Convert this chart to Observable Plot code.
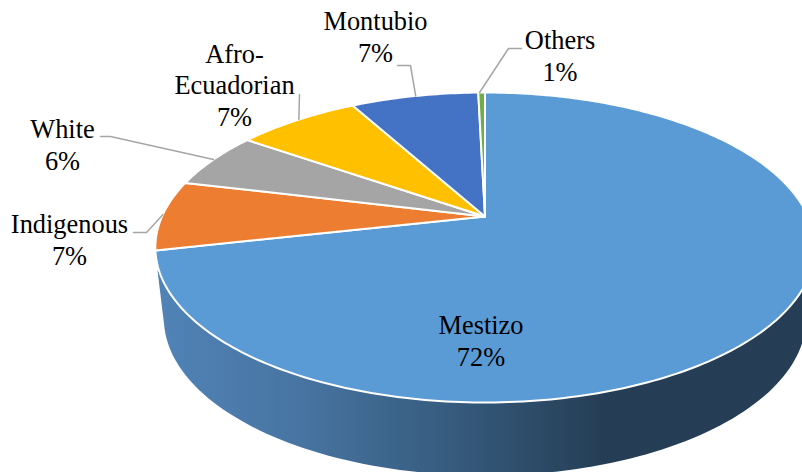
<!DOCTYPE html>
<html>
<head>
<meta charset="utf-8">
<script src="https://cdn.jsdelivr.net/npm/d3@7"></script>
<script src="https://cdn.jsdelivr.net/npm/@observablehq/plot@0.6"></script>
<style>html,body{margin:0;padding:0;background:#fff}svg{display:block}</style>
</head>
<body>
<div id="chart"></div>
<script>
// Data
const categories = ["Mestizo", "Indigenous", "White", "Afro-Ecuadorian", "Montubio", "Others"];
const shares = [71.5, 7.3, 5.9, 7.3, 7.6, 0.4];
const percentLabels = ["72%", "7%", "6%", "7%", "7%", "1%"];
const labelNames = ["Mestizo", "Indigenous", "White", "Afro-\nEcuadorian", "Montubio", "Others"];

// Styling and layout (separate from the data)
const palette = ["#5B9BD5", "#ED7D31", "#A5A5A5", "#FFC000", "#4472C4", "#70AD47"];
const W = 802, H = 472;
const apex = {x: 484.5, y: 216}, kx = 323, ky = 148.8, persp = 0.2;
const wall = {sx: 0.974, sy: 1.013, dy: 70.6};
const labelX = [480.5, 69, 62, 234, 375, 559.5];
const labelY = [339.5, 238.5, 143.5, 84, 35.5, 54.5];
const leaderTurn = [null, 0.752, 0.818, 0.8847, 0.9588, 0.9968];
const elbows = [null, [[146, 232], [133, 232]], [[110, 136], [100, 136]], [[299, 94]], [[410, 65], [397, 65]], [[508, 48], [521, 48]]];

// Perspective projection of a pie angle (turn fraction, clockwise from the back)
function project(t, sx = 1, sy = 1, dy = 0) {
  const a = t * 2 * Math.PI, u = Math.sin(a), v = Math.cos(a), d = 1 + persp * v;
  return {x: apex.x + sx * kx * u / d, y: apex.y + dy - sy * ky * v / d};
}

const total = d3.sum(shares);
let acc = 0;
const slices = categories.map((name, i) => {
  const start = acc / total; acc += shares[i];
  return {name, i, start, end: acc / total};
});

const slicePts = slices.flatMap(s => {
  const n = Math.max(4, Math.ceil((s.end - s.start) * 360));
  const arc = d3.range(n + 1).map(k => project(s.start + (s.end - s.start) * k / n));
  return [apex, ...arc, apex].map(p => ({...p, name: s.name}));
});

// Visible side wall: lower rim from the left round the front to the right
const rim = d3.range(0.291, 0.7091, 0.004).map(t => project(t, wall.sx, wall.sy, wall.dy)).reverse();
const sidePts = [{x: 157, y: 270}, ...rim, {x: 812, y: 270}];

const leaders = slices.flatMap(s => {
  if (!elbows[s.i]) return [];
  return [project(leaderTurn[s.i]), ...elbows[s.i].map(([x, y]) => ({x, y}))].map(p => ({...p, name: s.name}));
});

const labels = slices.map(s => ({
  x: labelX[s.i], y: labelY[s.i],
  text: labelNames[s.i] + "\n" + percentLabels[s.i]
}));

const plot = Plot.plot({
  width: W, height: H,
  margin: 0,
  x: {domain: [0, W], range: [0, W], axis: null},
  y: {domain: [0, H], range: [0, H], axis: null},
  color: {domain: categories, range: palette},
  style: {background: "#fff"},
  marks: [
    Plot.line(sidePts, {x: "x", y: "y", fill: "url(#side)", stroke: "none"}),
    Plot.line(slicePts, {x: "x", y: "y", z: "name", fill: "name", stroke: "#fff", strokeWidth: 2, strokeLinejoin: "round"}),
    Plot.line(leaders, {x: "x", y: "y", z: "name", stroke: "#A6A6A6", strokeWidth: 1.5}),
    Plot.text(labels, {x: "x", y: "y", text: "text", fontFamily: "Liberation Serif", fontSize: 26.4, lineHeight: 1.18, fill: "#000", textAnchor: "middle", lineAnchor: "middle"})
  ]
});

// Horizontal shading of the side wall
const ns = "http://www.w3.org/2000/svg";
const defs = document.createElementNS(ns, "defs");
const grad = document.createElementNS(ns, "linearGradient");
grad.setAttribute("id", "side");
grad.setAttribute("gradientUnits", "userSpaceOnUse");
grad.setAttribute("x1", 157); grad.setAttribute("x2", 813);
grad.setAttribute("y1", 0); grad.setAttribute("y2", 0);
[[0, "#5183B7"], [0.22, "#4774A1"], [0.45, "#365B7D"], [0.68, "#253E55"], [1, "#253E55"]].forEach(([o, c]) => {
  const st = document.createElementNS(ns, "stop");
  st.setAttribute("offset", o); st.setAttribute("stop-color", c);
  grad.appendChild(st);
});
defs.appendChild(grad);
plot.insertBefore(defs, plot.firstChild);
document.getElementById("chart").appendChild(plot);
</script>
</body>
</html>
